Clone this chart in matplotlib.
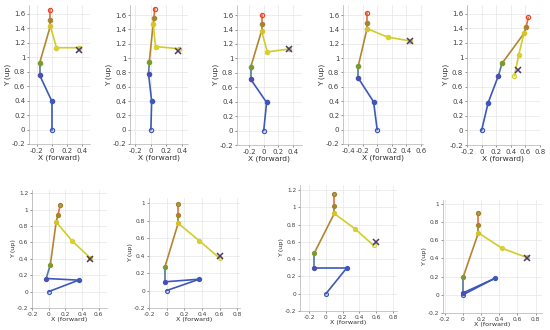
"""Stick-figure reach poses, 5 + 4 panels."""

import matplotlib

matplotlib.use("Agg")
import matplotlib.pyplot as plt

# body chain: foot, knee, hip, pelvis, shoulder, neck, head
body_x = [
    [0.00, 0.00, -0.16, -0.16, -0.02, -0.02, -0.02],
    [0.00, 0.01, -0.03, -0.02, 0.03, 0.04, 0.05],
    [0.00, 0.04, -0.18, -0.18, -0.03, -0.03, -0.03],
    [0.00, -0.05, -0.26, -0.26, -0.14, -0.14, -0.14],
    [0.00, 0.09, 0.23, 0.28, 0.58, 0.61, 0.64],
    [0.00, 0.36, -0.03, 0.02, 0.09, 0.11, 0.14],
    [0.00, 0.37, -0.02, -0.02, 0.13, 0.13, 0.13],
    [0.00, 0.25, -0.14, -0.14, 0.10, 0.10, 0.10],
    [0.00, 0.35, 0.00, 0.00, 0.17, 0.17, 0.17],
]
body_y = [
    [0.00, 0.39, 0.75, 0.92, 1.43, 1.51, 1.65],
    [0.00, 0.40, 0.78, 0.95, 1.48, 1.56, 1.69],
    [0.00, 0.39, 0.71, 0.88, 1.38, 1.47, 1.60],
    [0.00, 0.39, 0.72, 0.89, 1.41, 1.49, 1.63],
    [0.00, 0.38, 0.75, 0.92, 1.33, 1.42, 1.55],
    [0.00, 0.14, 0.16, 0.33, 0.85, 0.93, 1.06],
    [0.00, 0.13, 0.10, 0.27, 0.77, 0.86, 0.99],
    [0.00, 0.30, 0.30, 0.47, 0.93, 1.02, 1.15],
    [0.00, 0.18, 0.02, 0.19, 0.68, 0.77, 0.90],
]
# arm: elbow, wrist (shoulder taken from body chain)
arm_x = [
    [0.06, 0.36], [0.06, 0.36], [0.05, 0.35], [0.15, 0.45], [0.51, 0.45],
    [0.28, 0.50], [0.37, 0.60], [0.35, 0.57], [0.43, 0.70],
]
arm_y = [
    [1.13, 1.13], [1.16, 1.13], [1.09, 1.13], [1.29, 1.24], [1.04, 0.75],
    [0.62, 0.41], [0.57, 0.37], [0.75, 0.56], [0.51, 0.41],
]
target_x = [0.36, 0.35, 0.35, 0.45, 0.50, 0.50, 0.60, 0.60, 0.70]
target_y = [1.10, 1.10, 1.13, 1.24, 0.83, 0.40, 0.40, 0.60, 0.40]

x_lims = [(-0.3, 0.5), (-0.27, 0.48), (-0.37, 0.53), (-0.47, 0.63), (-0.2, 0.8),
          (-0.2, 0.7), (-0.2, 0.83), (-0.31, 0.85), (-0.22, 0.87)]
y_lims = [(-0.2, 1.72), (-0.2, 1.74), (-0.2, 1.74), (-0.2, 1.74), (-0.2, 1.72),
          (-0.2, 1.24), (-0.2, 1.06), (-0.2, 1.26), (-0.2, 1.04)]
# pixel boxes (left, right, top, bottom) in a 550x330 canvas
boxes = [(29, 90, 5, 144), (130, 188, 5, 144), (237, 302, 5, 145), (343, 423, 5, 144),
         (467, 540, 5, 145), (32, 107, 190, 308), (149, 240, 198, 308),
         (300, 397, 185, 311), (443, 542, 200, 313)]

W, H = 550, 330
BLUE = "#3d58b8"
OLIVE = "#8f8a2c"
BROWN = "#b48432"
YELLOW = "#d2cc2a"
ORANGE = "#e0703a"
RED = "#e5462c"
seg_colors = [BLUE, BLUE, "#4f7a9a", BROWN, OLIVE, ORANGE]
pt_colors = [BLUE, BLUE, "#4c4fb0", "#7c9a2e", "#d7c22c", "#a88430", RED]

fig = plt.figure(figsize=(5.5, 3.3), dpi=100)

for i in range(9):
    l, r, t, b = boxes[i]
    ax = fig.add_axes([l / W, 1 - b / H, (r - l) / W, (b - t) / H])
    bx, by = body_x[i], body_y[i]
    small = i >= 5
    fs = 4.2 if small else 5.0
    lw = 1.2
    ms = 2.8 if small else 3.0

    for k in range(6):
        ax.plot(bx[k:k + 2], by[k:k + 2], color=seg_colors[k], lw=lw, zorder=2)
    ax.plot([bx[4]] + arm_x[i], [by[4]] + arm_y[i], color=YELLOW, lw=lw, zorder=2)

    # joints
    ax.plot(bx[0], by[0], "o", mfc="none", mec=BLUE, mew=0.9, ms=ms, zorder=3)
    for k in range(1, 6):
        ax.plot(bx[k], by[k], "o", color=pt_colors[k], ms=ms, zorder=3)
    if small:
        ax.plot(bx[6], by[6], "o", mfc="#c0a040", mec="#a08030", ms=ms, zorder=3)
    else:
        ax.plot(bx[6], by[6], "o", mfc="none", mec=RED, mew=0.9, ms=ms, zorder=3)
    ax.plot(arm_x[i][0], arm_y[i][0], "o", color="#d8d02c", ms=ms, zorder=3)
    ax.plot(arm_x[i][1], arm_y[i][1], "o", mfc="none", mec="#d8d02c", mew=0.9, ms=ms, zorder=3)
    ax.plot(target_x[i], target_y[i], "x", color="#4d3a66", ms=ms + 1, mew=1.1, zorder=4)

    ax.set_xlim(*x_lims[i])
    ax.set_ylim(*y_lims[i])
    ax.set_xticks([v / 10 for v in range(-4, 9, 2)
                   if x_lims[i][0] - 1e-6 <= v / 10 <= x_lims[i][1] + 1e-6])
    ax.set_yticks([v / 10 for v in range(-2, 17, 2)
                   if y_lims[i][0] - 1e-6 <= v / 10 <= y_lims[i][1] + 1e-6])
    ax.xaxis.set_major_formatter(lambda v, p: f"{v:g}")
    ax.yaxis.set_major_formatter(lambda v, p: f"{v:g}")
    ax.grid(True, color="#e6e6e6", lw=0.5)
    ax.set_axisbelow(True)
    for side in ("top", "right"):
        ax.spines[side].set_visible(False)
    for side in ("left", "bottom"):
        ax.spines[side].set_color("#b0b0b0")
        ax.spines[side].set_linewidth(0.5)
    ax.tick_params(labelsize=fs, colors="#404040", length=1.5, width=0.4, pad=1.2)
    ax.set_xlabel("X (forward)", fontsize=fs + 0.4, color="#303030", labelpad=0.5)
    ax.set_ylabel("Y (up)", fontsize=fs + 0.4, color="#303030", labelpad=0.5)

fig.savefig("out.png", dpi=100)
